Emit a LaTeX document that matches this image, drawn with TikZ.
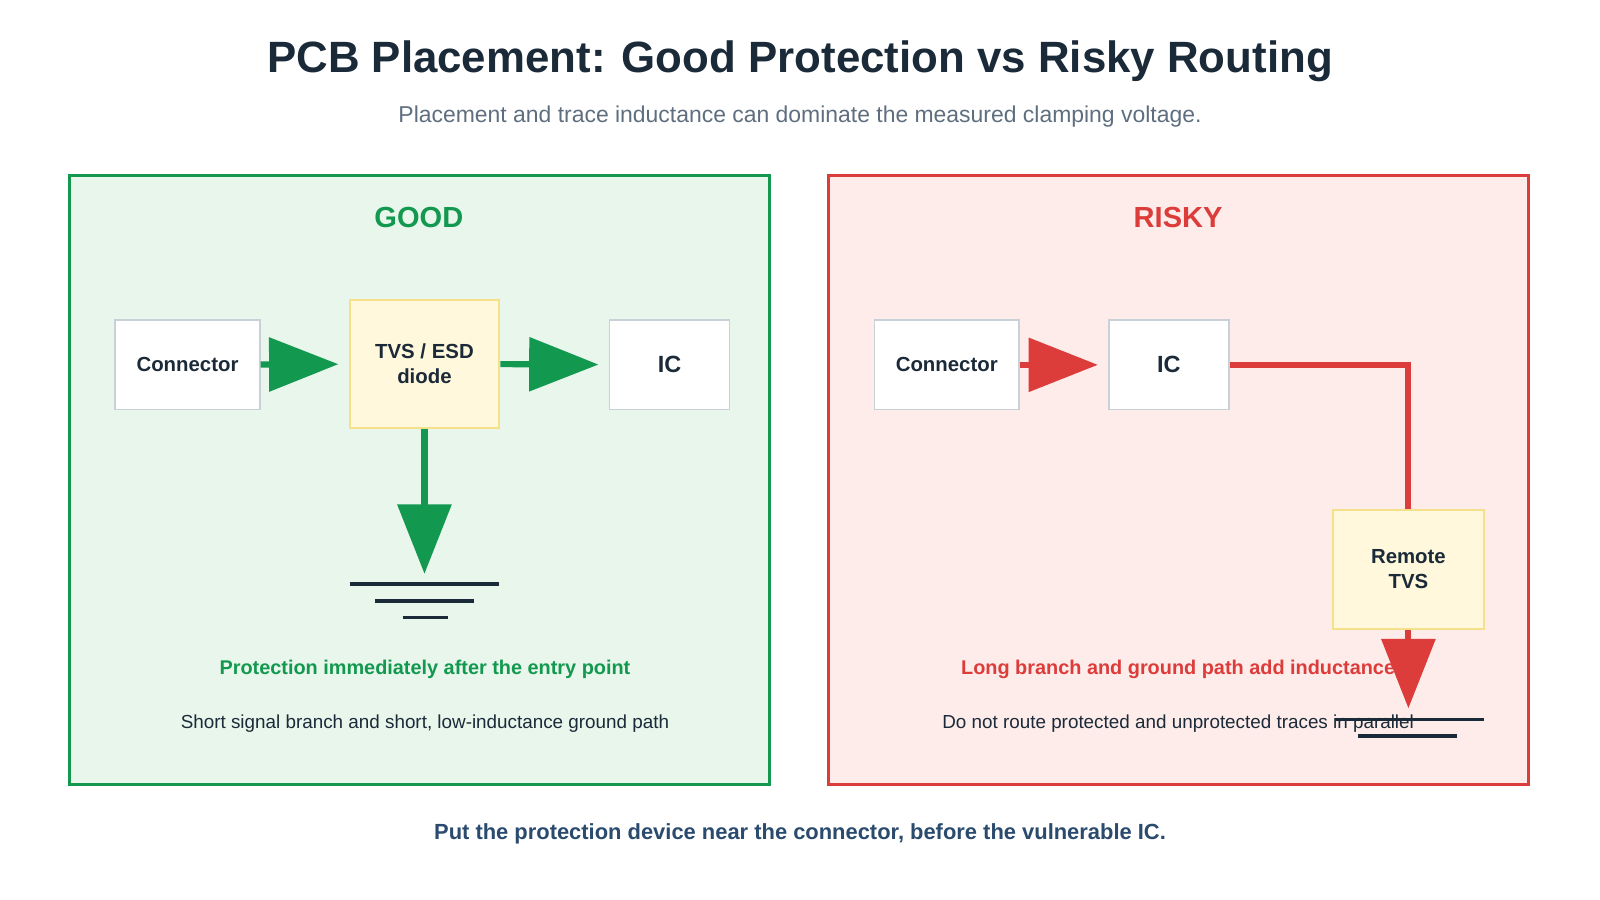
\documentclass[tikz,border=0pt]{standalone}
\usepackage{fontspec}
\setmainfont{Liberation Sans}
\usetikzlibrary{arrows.meta}
\definecolor{ink}{HTML}{1B2A38}
\definecolor{subgray}{HTML}{5F6E7E}
\definecolor{goodgreen}{HTML}{13994F}
\definecolor{goodfill}{HTML}{E8F6EC}
\definecolor{riskred}{HTML}{DC3C3A}
\definecolor{riskfill}{HTML}{FDECEA}
\definecolor{tvsfill}{HTML}{FFF8DC}
\definecolor{tvsline}{HTML}{F7E08A}
\definecolor{boxline}{HTML}{C9D0D8}
\definecolor{footblue}{HTML}{2A4B6E}
\begin{document}
\begin{tikzpicture}[x=1pt,y=-1pt,
  blk/.style={draw=boxline,line width=1.5,fill=white,font=\bfseries\fontsize{20}{24}\selectfont,text=ink,align=center},
  tvs/.style={draw=tvsline,line width=2,fill=tvsfill,font=\bfseries\fontsize{20}{24}\selectfont,text=ink,align=center},
  flow/.style={line width=6,-{Triangle[length=68,width=52]},shorten >=10},
  gnd/.style={line width=3.5,draw=ink}]
\useasboundingbox (0,0) rectangle (1570,883);
% title
\node[text=ink,font=\bfseries\fontsize{43}{48}\selectfont] (title) at (785,60) {PCB Placement: Good Protection vs Risky Routing};
\node[text=subgray,font=\fontsize{22.5}{26}\selectfont] (sub) at (785,114) {Placement and trace inductance can dominate the measured clamping voltage.};
% panels
\draw[goodgreen,fill=goodfill,line width=2.5] (68,172) rectangle (755,770);
\draw[riskred,fill=riskfill,line width=2.5] (813,172) rectangle (1500,770);
\node[text=goodgreen,font=\bfseries\fontsize{28.5}{32}\selectfont] (good) at (411,213) {GOOD};
\node[text=riskred,font=\bfseries\fontsize{28.5}{32}\selectfont] (risky) at (1156,213) {RISKY};
% good side
\node[blk,minimum width=142,minimum height=88] (conA) at (184,358) {Connector};
\node[tvs,minimum width=147,minimum height=126] (tvsA) at (416.5,357) {TVS / ESD\\diode};
\node[blk,minimum width=118,minimum height=88,font=\bfseries\fontsize{23}{26}\selectfont] (icA) at (657,358) {IC};
\coordinate (gndA) at (416.5,563);
\draw[flow,goodgreen] (conA) -- (tvsA);
\draw[flow,goodgreen] (tvsA) -- (icA);
\draw[flow,goodgreen,shorten >=0] (tvsA) -- (gndA);
\draw[gnd] (343,573) -- (490,573) (368,590) -- (465,590) (395,606) -- (440,606);
\node[text=goodgreen,font=\bfseries\fontsize{19.5}{22}\selectfont] (noteA) at (417,657) {Protection immediately after the entry point};
\node[text=ink,font=\fontsize{18.5}{22}\selectfont] (subA) at (417,710) {Short signal branch and short, low-inductance ground path};
% risky side
\node[blk,minimum width=142,minimum height=88] (conB) at (929,358) {Connector};
\node[blk,minimum width=118,minimum height=88,font=\bfseries\fontsize{23}{26}\selectfont] (icB) at (1147,358) {IC};
\node[tvs,minimum width=148,minimum height=117] (tvsB) at (1382,558.5) {Remote\\TVS};
\coordinate (gndB) at (1382,695);
\draw[flow,riskred] (conB) -- (icB);
\draw[riskred,line width=6] (icB.east) -| (tvsB.north);
\draw[flow,riskred,shorten >=0] (tvsB) -- (gndB);
\node[text=riskred,font=\bfseries\fontsize{19.5}{22}\selectfont] (noteB) at (1156,657) {Long branch and ground path add inductance};
\node[text=ink,font=\fontsize{18.5}{22}\selectfont] (subB) at (1156,710) {Do not route protected and unprotected traces in parallel};
\draw[gnd] (1310,706) -- (1456,706) (1333,722) -- (1430,722);
% footer
\node[text=footblue,font=\bfseries\fontsize{21.5}{25}\selectfont] (foot) at (785,818) {Put the protection device near the connector, before the vulnerable IC.};
\end{tikzpicture}
\end{document}
